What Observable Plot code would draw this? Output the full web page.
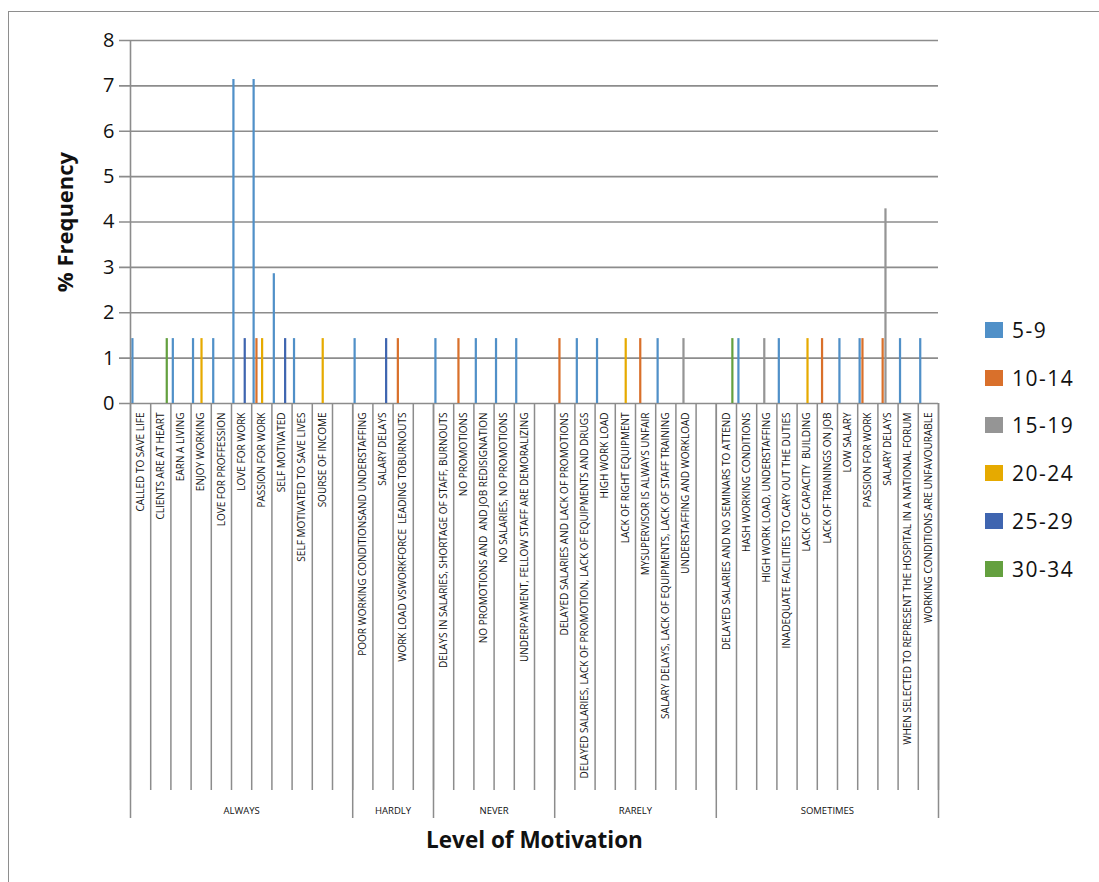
<!DOCTYPE html>
<html>
<head>
<meta charset="utf-8">
<script src="https://cdn.jsdelivr.net/npm/d3@7"></script>
<script src="https://cdn.jsdelivr.net/npm/@observablehq/plot@0.6"></script>
<style>
  html, body { margin: 0; padding: 0; background: #fff; overflow: hidden; }
  #wrap { position: relative; width: 1099px; height: 882px; overflow: hidden; }
  #border { position: absolute; left: 8px; top: 11px; width: 1300px; height: 1100px;
            border: 1.5px solid #8e8e8e; box-sizing: border-box; }
  #chart { position: absolute; left: 0; top: 0; }
  #legend { position: absolute; left: 985px; top: 306px; font-family: "Open Sans", sans-serif;
            font-size: 21px; color: #111; }
  #legend .item { display: flex; align-items: center; height: 47.8px; }
  #legend .sw { width: 18px; height: 16px; margin-right: 9px; flex: none; }
  #legend .lab { letter-spacing: 1.5px; }
</style>
</head>
<body>
<div id="wrap">
  <div id="border"></div>
  <div id="chart"></div>
  <div id="legend"></div>
</div>
<script>
// Level of motivation groups and their response categories (a trailing blank slot follows each group)
const groups = ["ALWAYS", "HARDLY", "NEVER", "RARELY", "SOMETIMES"];
const alwaysItems = [
  "CALLED TO SAVE LIFE", "CLIENTS ARE AT HEART", "EARN A LIVING", "ENJOY WORKING",
  "LOVE FOR PROFFESSION", "LOVE FOR WORK", "PASSION FOR WORK", "SELF MOTIVATED",
  "SELF MOTIVATED TO SAVE LIVES", "SOURSE OF INCOME", ""
];
const hardlyItems = [
  "POOR WORKING CONDITIONSAND UNDERSTAFFING", "SALARY DELAYS",
  "WORK LOAD VSWORKFORCE  LEADING TOBURNOUTS", ""
];
const neverItems = [
  "DELAYS IN SALARIES, SHORTAGE OF STAFF, BURNOUTS", "NO PROMOTIONS",
  "NO PROMOTIONS AND  AND JOB REDISIGNATION", "NO SALARIES, NO PROMOTIONS",
  "UNDERPAYMENT, FELLOW STAFF ARE DEMORALIZING", ""
];
const rarelyItems = [
  "DELAYED SALARIES AND LACK OF PROMOTIONS",
  "DELAYED SALARIES, LACK OF PROMOTION, LACK OF EQUIPMENTS AND DRUGS",
  "HIGH WORK LOAD", "LACK OF RIGHT EQUIPMENT", "MYSUPERVISOR IS ALWAYS UNFAIR",
  "SALARY DELAYS, LACK OF EQUIPMENTS, LACK OF STAFF TRAINING",
  "UNDERSTAFFING AND WORKLOAD", ""
];
const sometimesItems = [
  "DELAYED SALARIES AND NO SEMINARS TO ATTEND", "HASH WORKING CONDITIONS",
  "HIGH WORK LOAD, UNDERSTAFFING", "INADEQUATE FACILITIES TO CARY OUT THE DUTIES",
  "LACK OF CAPACITY  BUILDING", "LACK OF TRAININGS ON JOB", "LOW SALARY",
  "PASSION FOR WORK", "SALARY DELAYS",
  "WHEN SELECTED TO REPRESENT THE HOSPITAL IN A NATIONAL FORUM",
  "WORKING CONDITIONS ARE UNFAVOURABLE"
];

// Age-group series (% frequency), one value per category slot above, in order
const seriesNames = ["5-9", "10-14", "15-19", "20-24", "25-29", "30-34"];
const seriesColors = ["#5090c8", "#d9702b", "#959595", "#e6aa00", "#3f65b0", "#64a03f"];
const s5_9 = [
  1.43, 0, 1.43, 1.43, 1.43, 7.14, 7.14, 2.86, 1.43, 0, 0,
  1.43, 0, 0, 0,
  1.43, 0, 1.43, 1.43, 1.43, 0,
  0, 1.43, 1.43, 0, 0, 1.43, 0, 0,
  0, 1.43, 0, 1.43, 0, 0, 1.43, 1.43, 0, 1.43, 1.43
];
const s10_14 = [
  0, 0, 0, 0, 0, 0, 1.43, 0, 0, 0, 0,
  0, 0, 1.43, 0,
  0, 1.43, 0, 0, 0, 0,
  1.43, 0, 0, 0, 1.43, 0, 0, 0,
  0, 0, 0, 0, 0, 1.43, 0, 1.43, 1.43, 0, 0
];
const s15_19 = [
  0, 0, 0, 0, 0, 0, 0, 0, 0, 0, 0,
  0, 0, 0, 0,
  0, 0, 0, 0, 0, 0,
  0, 0, 0, 0, 0, 0, 1.43, 0,
  0, 0, 1.43, 0, 0, 0, 0, 0, 4.29, 0, 0
];
const s20_24 = [
  0, 0, 0, 1.43, 0, 0, 1.43, 0, 0, 1.43, 0,
  0, 0, 0, 0,
  0, 0, 0, 0, 0, 0,
  0, 0, 0, 1.43, 0, 0, 0, 0,
  0, 0, 0, 0, 1.43, 0, 0, 0, 0, 0, 0
];
const s25_29 = [
  0, 0, 0, 0, 0, 1.43, 0, 1.43, 0, 0, 0,
  0, 1.43, 0, 0,
  0, 0, 0, 0, 0, 0,
  0, 0, 0, 0, 0, 0, 0, 0,
  0, 0, 0, 0, 0, 0, 0, 0, 0, 0, 0
];
const s30_34 = [
  0, 1.43, 0, 0, 0, 0, 0, 0, 0, 0, 0,
  0, 0, 0, 0,
  0, 0, 0, 0, 0, 0,
  0, 0, 0, 0, 0, 0, 0, 0,
  1.43, 0, 0, 0, 0, 0, 0, 0, 0, 0, 0
];
const yTicks = [0, 1, 2, 3, 4, 5, 6, 7, 8];

// ---- build tables for the marks ----
const groupItems = [alwaysItems, hardlyItems, neverItems, rarelyItems, sometimesItems];
const slots = [];
const groupSpans = [];
groupItems.forEach((items, g) => {
  groupSpans.push({name: groups[g], start: slots.length, count: items.length});
  items.forEach(label => slots.push({idx: slots.length, group: groups[g], label}));
});
const nSlots = slots.length;
const boundaries = d3.range(nSlots + 1);
const groupBounds = groupSpans.map(d => d.start).concat([nSlots]);

const seriesValues = [s5_9, s10_14, s15_19, s20_24, s25_29, s30_34];
const bars = [];
seriesValues.forEach((vals, s) => {
  vals.forEach((v, i) => { if (v > 0) bars.push({idx: i, s, series: seriesNames[s], value: v}); });
});

// clustered layout inside each category slot (slot units)
const clusterStart = 0.12, clusterStep = 0.14, halfBar = 0.055;
const barCenter = d => d.idx + clusterStart + d.s * clusterStep;

const grid = "#8c8c8c";
const font = "'Open Sans', sans-serif";

const plot = Plot.plot({
  width: 1099,
  height: 882,
  marginTop: 40,
  marginBottom: 479,
  marginLeft: 130,
  marginRight: 161,
  style: {fontFamily: font, background: "transparent", overflow: "visible"},
  x: {domain: [0, nSlots], axis: null},
  y: {domain: [0, 8], axis: null},
  color: {domain: seriesNames, range: seriesColors},
  marks: [
    // horizontal gridlines, extended left to form the y tick marks
    Plot.ruleY(yTicks, {y: d => d, stroke: grid, strokeWidth: 1.6, insetLeft: -11}),
    // y tick labels
    Plot.text(yTicks, {y: d => d, text: d => String(d), frameAnchor: "left", dx: -16,
      textAnchor: "end", lineAnchor: "middle", fontSize: 20, fill: "#111"}),
    // bars
    Plot.rect(bars, {
      x1: d => barCenter(d) - halfBar, x2: d => barCenter(d) + halfBar,
      y1: 0, y2: "value", fill: "series"
    }),
    // y axis line
    Plot.ruleX([0], {x: d => d, stroke: grid, strokeWidth: 1.6}),
    // category separators below the baseline
    Plot.ruleX(boundaries, {x: d => d, y1: 0, y2: 0, insetBottom: -387, stroke: grid, strokeWidth: 1.5}),
    // group separators, reaching further down
    Plot.ruleX(groupBounds, {x: d => d, y1: 0, y2: 0, insetBottom: -415, stroke: grid, strokeWidth: 1.5}),
    // category labels, rotated
    Plot.text(slots.filter(d => d.label), {
      x: d => d.idx + 0.5, text: "label", frameAnchor: "bottom", rotate: -90,
      textAnchor: "end", lineAnchor: "middle", dy: 9, fontSize: 10, fill: "#111"
    }),
    // group labels
    Plot.text(groupSpans, {
      x: d => d.start + d.count / 2, text: "name", frameAnchor: "bottom",
      textAnchor: "middle", lineAnchor: "middle", dy: 407, fontSize: 9.5, fill: "#111"
    }),
    // axis titles
    Plot.text(["% Frequency"], {text: d => d, frameAnchor: "left", rotate: -90, dx: -65,
      textAnchor: "middle", lineAnchor: "middle", fontSize: 22, fontWeight: "bold", fill: "#111"}),
    Plot.text(["Level of Motivation"], {text: d => d, frameAnchor: "bottom", dy: 437,
      textAnchor: "middle", lineAnchor: "middle", fontSize: 22.5, fontWeight: "bold", fill: "#111"})
  ]
});
document.getElementById("chart").appendChild(plot);

// legend, stacked vertically on the right
const legend = d3.select("#legend");
seriesNames.forEach((name, i) => {
  const item = legend.append("div").attr("class", "item");
  item.append("div").attr("class", "sw").style("background", seriesColors[i]);
  item.append("span").attr("class", "lab").text(name);
});
</script>
</body>
</html>
